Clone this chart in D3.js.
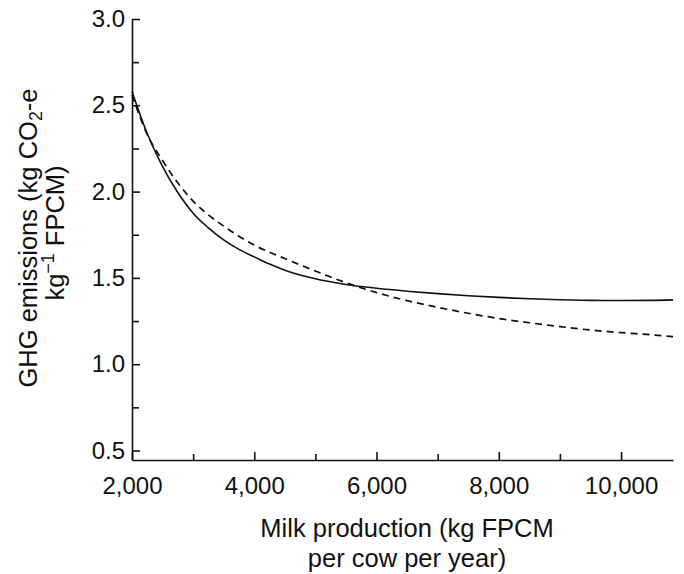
<!DOCTYPE html>
<html>
<head>
<meta charset="utf-8">
<script src="https://cdn.jsdelivr.net/npm/d3@7"></script>
<style>
  html, body { margin: 0; padding: 0; background: #fff; }
  svg { display: block; font-family: "Liberation Sans", Arial, Helvetica, sans-serif; }
</style>
</head>
<body>
<svg id="chart" width="684" height="574"></svg>
<script>
// Milk production (kg FPCM per cow per year)
const milkSolid = [2000, 2250, 2500, 2750, 3000, 3250, 3500, 3750, 4000, 4250, 4500, 5000, 5500, 6000, 6500, 7000, 7500, 8000, 8500, 9000, 9500, 10000, 10500, 10850];
// GHG emissions, solid curve
const ghgSolid = [2.58, 2.335, 2.145, 1.995, 1.875, 1.79, 1.72, 1.665, 1.622, 1.58, 1.545, 1.495, 1.462, 1.44, 1.423, 1.409, 1.397, 1.387, 1.379, 1.373, 1.37, 1.369, 1.37, 1.373];

const milkDashed = [2000, 2250, 2500, 2750, 3000, 3250, 3500, 4000, 4500, 5000, 5500, 6000, 6500, 7000, 7500, 8000, 8500, 9000, 9500, 10000, 10500, 10850];
// GHG emissions, dashed curve
const ghgDashed = [2.56, 2.33, 2.18, 2.05, 1.945, 1.865, 1.80, 1.69, 1.612, 1.54, 1.472, 1.415, 1.368, 1.33, 1.295, 1.265, 1.24, 1.218, 1.198, 1.183, 1.17, 1.16];

const xMajorTicks = [2000, 4000, 6000, 8000, 10000];
const xMinorTicks = [3000, 5000, 7000, 9000];
const yMajorTicks = [0.5, 1.0, 1.5, 2.0, 2.5, 3.0];
const yMinorTicks = [0.75, 1.25, 1.75, 2.25, 2.75];

const svg = d3.select("#chart");
const x = d3.scaleLinear().domain([2000, 10850]).range([132, 673]);
const y = d3.scaleLinear().domain([0.445, 3.0]).range([460, 19]);

const tickFont = 24;
const titleFont = 25.5;

// x axis
const gx = svg.append("g").attr("transform", `translate(0,${y(0.445)})`);
gx.call(d3.axisBottom(x).tickValues(xMajorTicks).tickFormat(d3.format(","))
  .tickSizeInner(-8).tickSizeOuter(0).tickPadding(17));
const gxm = svg.append("g").attr("transform", `translate(0,${y(0.445)})`);
gxm.call(d3.axisBottom(x).tickValues(xMinorTicks).tickFormat("")
  .tickSizeInner(-6).tickSizeOuter(0));
gxm.select(".domain").remove();

// y axis
const gy = svg.append("g").attr("transform", `translate(${x(2000)},0)`);
gy.call(d3.axisLeft(y).tickValues(yMajorTicks).tickFormat(d3.format(".1f"))
  .tickSizeInner(-8).tickSizeOuter(0).tickPadding(7));
const gym = svg.append("g").attr("transform", `translate(${x(2000)},0)`);
gym.call(d3.axisLeft(y).tickValues(yMinorTicks).tickFormat("")
  .tickSizeInner(-7).tickSizeOuter(0));
gym.select(".domain").remove();

svg.selectAll(".domain, .tick line").attr("stroke", "#111").attr("stroke-width", 1.6);
svg.selectAll(".tick text").attr("font-size", tickFont).attr("fill", "#111")
  .attr("font-family", "Liberation Sans, Arial, sans-serif");

// curves
const line = d3.line().x(d => x(d[0])).y(d => y(d[1])).curve(d3.curveMonotoneX);

svg.append("path")
  .datum(milkDashed.map((m, i) => [m, ghgDashed[i]]))
  .attr("d", line)
  .attr("fill", "none").attr("stroke", "#111").attr("stroke-width", 1.7)
  .attr("stroke-dasharray", "7,5");

svg.append("path")
  .datum(milkSolid.map((m, i) => [m, ghgSolid[i]]))
  .attr("d", line)
  .attr("fill", "none").attr("stroke", "#111").attr("stroke-width", 1.6);

// x axis title
const xt = svg.append("text").attr("text-anchor", "middle").attr("font-size", titleFont).attr("fill", "#111");
xt.append("tspan").attr("x", 407).attr("y", 537).text("Milk production (kg FPCM");
xt.append("tspan").attr("x", 407).attr("y", 567).text("per cow per year)");

// y axis title
const yt = svg.append("text").attr("text-anchor", "middle").attr("font-size", titleFont).attr("fill", "#111")
  .attr("transform", "rotate(-90)");
const l1 = yt.append("tspan").attr("x", -238).attr("y", 37);
l1.append("tspan").text("GHG emissions (kg CO");
l1.append("tspan").attr("font-size", titleFont * 0.7).attr("dy", 5).text("2");
l1.append("tspan").attr("dy", -5).text("-e");
const l2 = yt.append("tspan").attr("x", -233).attr("y", 64);
l2.append("tspan").text("kg");
l2.append("tspan").attr("font-size", titleFont * 0.7).attr("dy", -10).text("\u22121");
l2.append("tspan").attr("dy", 10).text(" FPCM)");
</script>
</body>
</html>
